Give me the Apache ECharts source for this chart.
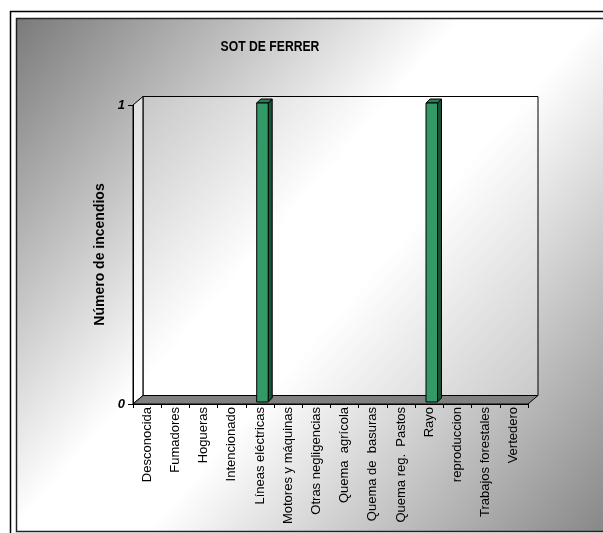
<!DOCTYPE html>
<html>
<head>
<meta charset="utf-8">
<script src="https://cdn.jsdelivr.net/npm/echarts@6/dist/echarts.min.js"></script>
<style>html,body{margin:0;padding:0;background:#fff;overflow:hidden}#c{width:603px;height:533px}</style>
</head>
<body>
<div id="c"></div>
<script>
const categories = ['Desconocida','Fumadores','Hogueras','Intencionado','Líneas eléctricas','Motores y máquinas','Otras negligencias','Quema  agrícola','Quema de  basuras','Quema reg.  Pastos','Rayo','reproduccion','Trabajos forestales','Vertedero'];
const values = [0,0,0,0,1,0,0,0,0,0,1,0,0,0];
const yTicks = [0, 1];
const titleText = 'SOT DE FERRER';
const yTitle = 'Número de incendios';

const GL = 133, GT = 105, GR = 528, GB = 404; // front plane of plot
const DX = 10, DY = 8.5; // 3D depth offset
const W = 603, H = 533;

const chart = echarts.init(document.getElementById('c'), null, {renderer: 'canvas'});

const bgGrad = new echarts.graphic.LinearGradient(16, 18, 603, 531, [
  {offset: 0, color: '#7a7a7a'},
  {offset: 0.43, color: '#ffffff'},
  {offset: 0.56, color: '#ffffff'},
  {offset: 1, color: '#888888'}
], true);

const option = {
  animation: false,
  grid: {left: GL, top: GT, right: W - GR, bottom: H - GB, containLabel: false},
  xAxis: {
    type: 'category', data: categories, z: 6,
    axisLine: {show: true, lineStyle: {color: '#000', width: 1}},
    axisTick: {show: true, length: 4, lineStyle: {color: '#000'}},
    axisLabel: {rotate: 90, margin: 3, fontFamily: 'Liberation Sans, Arial', fontSize: 13, color: '#000'}
  },
  yAxis: {
    type: 'value', min: 0, max: 1, interval: 1, z: 6,
    name: yTitle, nameLocation: 'middle', nameGap: 26, nameRotate: 90,
    nameTextStyle: {fontFamily: 'Liberation Sans, Arial', fontSize: 14, fontWeight: 'bold', color: '#000'},
    axisLine: {show: true, lineStyle: {color: '#000', width: 1}},
    axisTick: {show: true, length: 5, lineStyle: {color: '#000'}},
    splitLine: {show: false},
    axisLabel: {margin: 8, fontFamily: 'Liberation Sans, Arial', fontSize: 13, fontWeight: 'bold', fontStyle: 'italic', color: '#000',
      formatter: v => yTicks.indexOf(v) >= 0 ? String(v) : ''}
  },
  graphic: [
    {type: 'rect', z: -100, shape: {x: 10.5, y: 11.5, width: 700, height: 600}, style: {fill: '#fff', stroke: '#000', lineWidth: 1.5}},
    {type: 'rect', z: -99, shape: {x: 16.5, y: 18.5, width: 700, height: 513}, style: {fill: bgGrad, stroke: '#222', lineWidth: 1.5}},
    {type: 'polygon', z: -50, shape: {points: [[GL + DX, GT - DY], [GR + DX, GT - DY], [GR + DX, GB - DY], [GL + DX, GB - DY]]},
      style: {fill: 'rgba(255,255,255,0.25)', stroke: '#000', lineWidth: 1}},
    {type: 'polygon', z: -49, shape: {points: [[GL, GT], [GL + DX, GT - DY], [GL + DX, GB - DY], [GL, GB]]},
      style: {fill: 'rgba(255,255,255,0.6)', stroke: '#000', lineWidth: 1}},
    {type: 'polygon', z: -48, shape: {points: [[GL, GB], [GL + DX, GB - DY], [GR + DX, GB - DY], [GR, GB]]},
      style: {fill: '#808080', stroke: '#000', lineWidth: 1}},
    {type: 'text', z: 20, x: 270, y: 47, scaleX: 0.84,
      style: {text: titleText, textAlign: 'center', textVerticalAlign: 'middle', fill: '#000',
        font: 'bold 14.5px "Liberation Sans", Arial, sans-serif'}}
  ],
  series: [{
    type: 'custom', z: 10,
    data: values.map((v, i) => [i, v]),
    encode: {x: 0, y: 1},
    renderItem: function (params, api) {
      const v = api.value(1);
      if (!v) return null;
      const top = api.coord([api.value(0), v]);
      const base = api.coord([api.value(0), 0]);
      const bw = 11.5, d = 4, offx = 2.5, offy = 2;
      const l = top[0] - bw / 2 + offx, r = l + bw;
      const t = top[1] - offy, b = base[1] - offy;
      const ls = {stroke: '#000', lineWidth: 1};
      return {
        type: 'group',
        children: [
          {type: 'polygon', shape: {points: [[r, t], [r + d, t - d], [r + d, b - d], [r, b]]}, style: Object.assign({fill: '#1b5235'}, ls)},
          {type: 'polygon', shape: {points: [[l, t], [l + d, t - d], [r + d, t - d], [r, t]]}, style: Object.assign({fill: '#2a7d52'}, ls)},
          {type: 'rect', shape: {x: l, y: t, width: bw, height: b - t}, style: Object.assign({fill: '#339966'}, ls)}
        ]
      };
    }
  }]
};
chart.setOption(option);
</script>
</body>
</html>
